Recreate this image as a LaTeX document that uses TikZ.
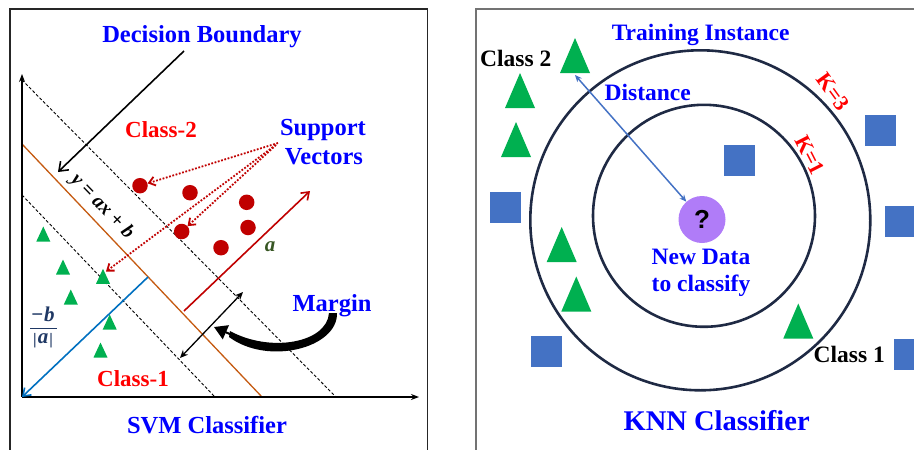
\documentclass[tikz,border=0pt]{standalone}
\usepackage{fontspec}
\setmainfont{Liberation Serif}
\newfontfamily\qsans{Liberation Sans}
\usetikzlibrary{arrows.meta}
\definecolor{tblue}{RGB}{0,0,255}
\definecolor{tred}{RGB}{255,0,0}
\definecolor{dred}{RGB}{192,0,0}
\definecolor{tgreen}{RGB}{0,176,80}
\definecolor{sqblue}{RGB}{68,114,196}
\definecolor{qpurple}{RGB}{176,124,248}
\definecolor{borange}{RGB}{197,90,17}
\definecolor{lblue}{RGB}{0,112,192}
\definecolor{navy}{RGB}{31,56,100}
\definecolor{agreen}{RGB}{55,86,35}
\definecolor{ring}{RGB}{31,42,68}
\newcommand\gtri[4]{\fill[tgreen] ({#1-#3/2},{#2+#4/2}) -- ({#1+#3/2},{#2+#4/2}) -- (#1,{#2-#4/2}) -- cycle;}
\newcommand\bi[1]{\textbf{\textit{#1}}}
\newcommand\sbar{\raisebox{-1.5pt}{\fontsize{16}{18}\selectfont\textbf{|}}}
\begin{document}
\begin{tikzpicture}[x=1pt,y=-1pt,
  txt/.style={font=\fontsize{24.5}{28}\selectfont\bfseries, anchor=base, inner sep=0pt},
  bluetxt/.style={txt, text=tblue},
  redtxt/.style={txt, text=tred, font=\fontsize{23}{26}\selectfont\bfseries},
  sq/.style={fill=sqblue, minimum size=31pt, inner sep=0pt},
  reddot/.style={circle, fill=dred, minimum size=15.5pt, inner sep=0pt},
  axisline/.style={line width=1.6pt, -{Stealth[length=8pt,width=6pt]}},
  dline/.style={dash pattern=on 3pt off 2pt, line width=0.9pt},
  svarrow/.style={dred, line width=1.8pt, dash pattern=on 1.8pt off 1.6pt, -{Straight Barb[length=6pt,width=9pt]}},
  ringst/.style={circle, draw=ring, line width=2.6pt, inner sep=0pt},
  barbtip/.style={-{Straight Barb[length=7pt,width=10pt]}}
]
\useasboundingbox (0,0) rectangle (914,450);
% frames
\draw[line width=1.1pt, black!85] (10,452) -- (10,9) -- (427.5,9) -- (427.5,452);
\draw[line width=1.5pt, black!55] (476,452) -- (476,9) -- (916,9);

% ---------- SVM ----------
\coordinate (O) at (22,397);
\draw[dline] (22,80) -- (336,397);
\draw[dline] (22,195) -- (215,397);
\draw[borange, line width=1.3pt] (22,144) -- (262,397);
\draw[axisline] (O) -- (22,74);
\draw[axisline] (O) -- (419,397);

\coordinate (bl) at (148,277);
\draw[lblue, line width=1.6pt, barbtip] (bl) -- (O);
\coordinate (ra0) at (184,311);
\coordinate (ra1) at (310,191);
\draw[dred, line width=1.6pt, barbtip] (ra0) -- (ra1);
\node[text=agreen, font=\fontsize{21}{24}\selectfont, inner sep=0pt] (alab) at (270,247) {\bi{a}};

\coordinate (m0) at (180,358);
\coordinate (m1) at (243,292);
\draw[line width=1.3pt, {Stealth[length=8pt,width=7pt]}-{Stealth[length=8pt,width=7pt]}] (m0) -- (m1);

\node[bluetxt] (db) at (202,42.3) {Decision Boundary};
\coordinate (dbs) at (184,51);
\coordinate (dbe) at (58,172);
\draw[line width=1.6pt, -{Straight Barb[length=8pt,width=12pt]}] (dbs) -- (dbe);

\node[redtxt] (cl2) at (161,137.7) {Class-2};
\node[bluetxt] (sv1) at (323,135) {Support};
\node[bluetxt] (sv2) at (324,164.3) {Vectors};

\node[reddot] (c1) at (140,185.7) {};
\node[reddot] (c2) at (190,192.7) {};
\node[reddot] (c3) at (246.7,202.3) {};
\node[reddot] (c4) at (248,227.5) {};
\node[reddot] (c5) at (181.7,231.5) {};
\node[reddot] (c6) at (221,247.7) {};

\gtri{43.3}{234}{14}{15}
\gtri{63}{267}{14}{15}
\gtri{103}{276.3}{14}{15}
\gtri{70.8}{297}{14}{15}
\gtri{109.7}{322}{14}{15}
\gtri{100.5}{350}{14}{15}

\coordinate (s1) at (278,143);
\coordinate (s2) at (276,145);
\coordinate (s3) at (273,147);
\coordinate (t3) at (106,271.5);
\draw[svarrow] (s1) -- (c1);
\draw[svarrow] (s2) -- (c5);
\draw[svarrow] (s3) -- (t3);

\node[rotate=-46, font=\fontsize{20}{22}\selectfont, inner sep=0pt] (eq) at (102,207) {\bi{y} \textbf{=} \bi{ax} \textbf{+} \bi{b}};
\node[text=navy, font=\fontsize{21}{22}\selectfont, inner sep=0pt, anchor=base] (fnum) at (43,321) {\textbf{−}\kern1pt\bi{b}};
\node[text=navy, font=\fontsize{21}{22}\selectfont, inner sep=0pt, anchor=base] (fden) at (43,343) {\sbar\kern1pt\bi{a}\kern1pt\sbar};
\coordinate (fb0) at (30,328.5);
\coordinate (fb1) at (57,328.5);
\draw[navy, line width=1.8pt] (fb0) -- (fb1);

\node[bluetxt] (mg) at (332,311) {Margin};
\fill (337,313) .. controls (338,348) and (268,366) .. (229,337) -- (230,331) .. controls (270,353) and (327,343) .. (329,313) -- cycle;
\coordinate (ma0) at (232,335);
\coordinate (ma1) at (214,327);
\draw[line width=2pt, -{Triangle[length=13pt,width=15pt]}] (ma0) -- (ma1);

\node[redtxt] (cl1) at (133,386.7) {Class-1};
\node[bluetxt] (svm) at (207,433.3) {SVM Classifier};

% ---------- KNN ----------
\node[ringst, minimum size=340pt] (k3) at (700.3,220.3) {};
\node[ringst, minimum size=222pt] (k1) at (704,215.8) {};

\node[bluetxt, font=\fontsize{23.5}{28}\selectfont\bfseries] (ti) at (700.7,40) {Training Instance};
\node[txt, font=\fontsize{23.5}{28}\selectfont\bfseries] (cls2) at (515.7,66.7) {Class 2};

\gtri{575}{55.5}{30}{35}
\gtri{520}{90.5}{30}{35}
\gtri{516}{139.5}{30}{35}
\gtri{561.7}{244.5}{30}{35}
\gtri{576.3}{294}{30}{35}
\gtri{798.3}{321}{30}{35}

\node[sq] (q1) at (739.5,160) {};
\node[sq] (q2) at (880.5,130) {};
\node[sq] (q3) at (505.5,207) {};
\node[sq] (q4) at (900.5,221.7) {};
\node[sq] (q5) at (546.5,351) {};
\node[sq] (q6) at (909.5,354) {};

\node[text=tred, rotate=-54, font=\fontsize{22}{24}\selectfont\bfseries, inner sep=0pt] (kk3) at (833,92) {K=3};
\node[text=tred, rotate=-63, font=\fontsize{22}{24}\selectfont\bfseries, inner sep=0pt] (kk1) at (810,155) {K=1};

\node[circle, fill=qpurple, minimum size=47pt, inner sep=0pt, font=\qsans\bfseries\fontsize{26}{28}\selectfont] (q) at (702,219.5) {?};
\coordinate (dtop) at (575,75);
\draw[sqblue, line width=1.5pt, {Stealth[length=7pt,width=6pt]}-{Stealth[length=7pt,width=6pt]}] (dtop) -- (q);
\node[bluetxt, font=\fontsize{23.5}{28}\selectfont\bfseries] (dist) at (647.7,100.7) {Distance};

\node[bluetxt, font=\fontsize{23.5}{28}\selectfont\bfseries] (nd1) at (701,264) {New Data};
\node[bluetxt, font=\fontsize{23.5}{28}\selectfont\bfseries] (nd2) at (701,291.7) {to classify};
\node[txt, font=\fontsize{23.5}{28}\selectfont\bfseries] (cls1) at (849.3,362.7) {Class 1};
\node[bluetxt, font=\fontsize{28.5}{32}\selectfont\bfseries] (knn) at (716.7,430) {KNN Classifier};
\end{tikzpicture}
\end{document}
